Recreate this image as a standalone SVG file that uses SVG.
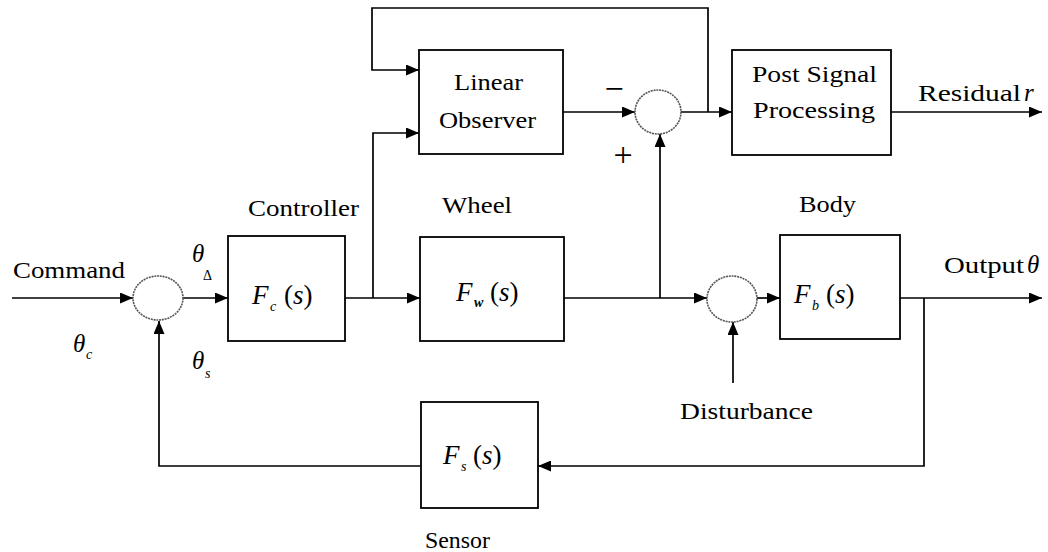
<svg xmlns="http://www.w3.org/2000/svg" width="1048" height="552" viewBox="0 0 1048 552">
<style>
.box{fill:#fff;stroke:#000;stroke-width:1.8}
.sum{fill:#fff;stroke:#555;stroke-width:1.6;stroke-dasharray:2 0.8}
.ln{fill:none;stroke:#000;stroke-width:1.7}
text{font-family:"Liberation Serif","DejaVu Serif","Times New Roman",serif;fill:#000}
.t{font-size:24px}
.g{font-size:25px;font-style:italic}
.f{font-size:27px}
.i{font-style:italic}
.sub{font-size:14px;font-style:italic}
.sign{font-size:34px}
</style>
<defs>
<marker id="ah" markerUnits="userSpaceOnUse" markerWidth="13" markerHeight="11" refX="13" refY="5.5" orient="auto">
<path d="M0,0 L13,5.5 L0,11 Z" fill="#000"/>
</marker>
</defs>
<rect width="1048" height="552" fill="#fff"/>

<g id="connectors" class="ln">
<path d="M12,298 H133" marker-end="url(#ah)"/>
<path d="M183,298 H228" marker-end="url(#ah)"/>
<path d="M345,298 H420" marker-end="url(#ah)"/>
<path d="M373,298 V133 H419" marker-end="url(#ah)"/>
<path d="M708,112 V8 H372 V70 H419" marker-end="url(#ah)"/>
<path d="M563,112 H635" marker-end="url(#ah)"/>
<path d="M681,112 H732" marker-end="url(#ah)"/>
<path d="M891,112 H1042" marker-end="url(#ah)"/>
<path d="M564,298 H707" marker-end="url(#ah)"/>
<path d="M660,298 V134" marker-end="url(#ah)"/>
<path d="M757,298 H780" marker-end="url(#ah)"/>
<path d="M733,383 V322" marker-end="url(#ah)"/>
<path d="M900,298 H1042" marker-end="url(#ah)"/>
<path d="M924,298 V466 H538" marker-end="url(#ah)"/>
<path d="M421,466 H159 V321" marker-end="url(#ah)"/>
</g>

<g id="sum1">
<ellipse class="sum" cx="158" cy="298" rx="25" ry="22"/>
</g>
<g id="sum2">
<ellipse class="sum" cx="658" cy="112" rx="23" ry="22"/>
<text class="sign" x="614" y="100" text-anchor="middle">−</text>
<text class="sign" x="623" y="166" text-anchor="middle">+</text>
</g>
<g id="sum3">
<ellipse class="sum" cx="732" cy="299" rx="25" ry="23"/>
</g>

<g id="command">
<text class="t" x="13" y="278" textLength="112" lengthAdjust="spacingAndGlyphs">Command</text>
<text class="g" x="73" y="352">θ</text>
<text class="sub" x="86" y="359">c</text>
</g>

<g id="theta-delta">
<text class="g" x="192" y="262">θ</text>
<text class="sub" x="203" y="280" style="font-style:normal">Δ</text>
</g>
<g id="theta-s">
<text class="g" x="192" y="369">θ</text>
<text class="sub" x="205" y="378">s</text>
</g>

<g id="controller">
<text class="t" x="248" y="216" textLength="111" lengthAdjust="spacingAndGlyphs">Controller</text>
<rect class="box" x="228" y="236" width="117" height="105"/>
<text class="f i" x="252" y="304">F</text>
<text class="sub" x="270" y="311">c</text>
<text class="f" x="284" y="304">(<tspan class="i">s</tspan>)</text>
</g>

<g id="wheel">
<text class="t" x="442" y="213" textLength="70" lengthAdjust="spacingAndGlyphs">Wheel</text>
<rect class="box" x="420" y="237" width="144" height="104"/>
<text class="f i" x="456" y="301">F</text>
<text class="sub" x="474" y="307" style="font-weight:bold">w</text>
<text class="f" x="490" y="301">(<tspan class="i">s</tspan>)</text>
</g>

<g id="body">
<text class="t" x="799" y="212" textLength="57" lengthAdjust="spacingAndGlyphs">Body</text>
<rect class="box" x="780" y="235" width="120" height="104"/>
<text class="f i" x="794" y="303">F</text>
<text class="sub" x="812" y="310">b</text>
<text class="f" x="826" y="303">(<tspan class="i">s</tspan>)</text>
</g>

<g id="sensor">
<rect class="box" x="421" y="402" width="117" height="106"/>
<text class="f i" x="443" y="464">F</text>
<text class="sub" x="461" y="471">s</text>
<text class="f" x="473" y="464">(<tspan class="i">s</tspan>)</text>
<text class="t" x="425" y="548" textLength="65" lengthAdjust="spacingAndGlyphs">Sensor</text>
</g>

<g id="observer">
<rect class="box" x="419" y="50" width="144" height="104"/>
<text class="t" x="454" y="90" textLength="69" lengthAdjust="spacingAndGlyphs">Linear</text>
<text class="t" x="439" y="128" textLength="97" lengthAdjust="spacingAndGlyphs">Observer</text>
</g>

<g id="post">
<rect class="box" x="732" y="50" width="159" height="105"/>
<text class="t" x="752" y="82" textLength="125" lengthAdjust="spacingAndGlyphs">Post Signal</text>
<text class="t" x="753" y="118" textLength="122" lengthAdjust="spacingAndGlyphs">Processing</text>
</g>

<g id="residual">
<text class="t" x="918" y="101" textLength="103" lengthAdjust="spacingAndGlyphs">Residual</text>
<text class="g" x="1024" y="101">r</text>
</g>

<g id="output">
<text class="t" x="944" y="273" textLength="80" lengthAdjust="spacingAndGlyphs">Output</text>
<text class="g" x="1027" y="273">θ</text>
</g>

<g id="disturbance">
<text class="t" x="680" y="419" textLength="133" lengthAdjust="spacingAndGlyphs">Disturbance</text>
</g>
</svg>
